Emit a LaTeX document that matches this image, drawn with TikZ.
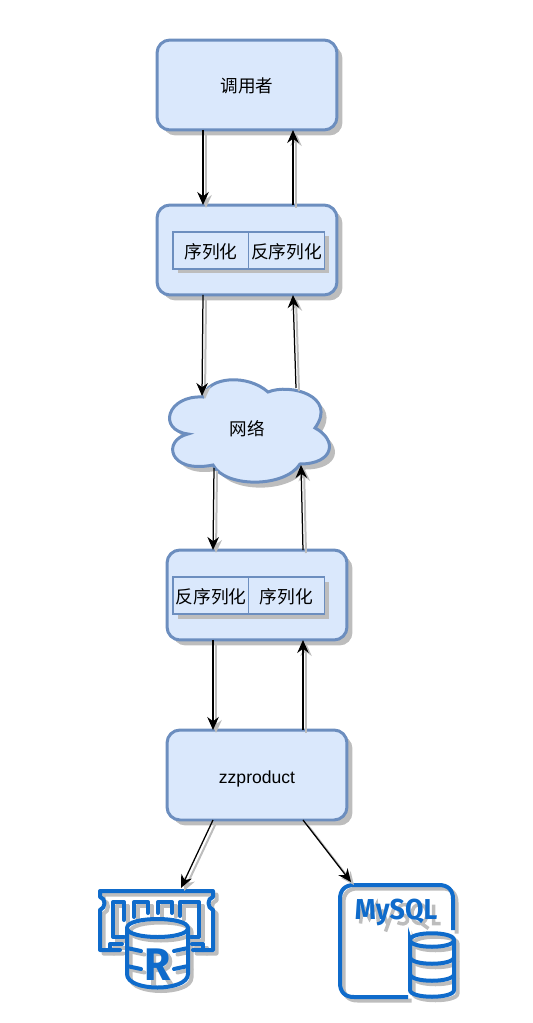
\documentclass[tikz,border=0pt]{standalone}
\usepackage{fontspec}
\setmainfont{Liberation Sans}
\newfontfamily\cjk{Noto Sans CJK SC}
\newfontfamily\iconfont[FakeStretch=0.93]{Fira Sans}
\usetikzlibrary{arrows.meta,shadows}
\definecolor{boxfill}{HTML}{DAE8FC}
\definecolor{boxline}{HTML}{6C8EBF}
\definecolor{iconblue}{HTML}{0F6BCB}
\definecolor{shadowgray}{HTML}{BDBDBD}
\tikzset{
  boxshadow/.style={drop shadow={shadow xshift=0.11cm,shadow yshift=-0.11cm,fill=shadowgray,opacity=1}},
  bigbox/.style={draw=boxline,fill=boxfill,line width=0.06cm,rounded corners=0.26cm,outer sep=0pt,
    minimum width=3.6cm,minimum height=1.8cm,boxshadow,font=\cjk,text height=0.39cm,text depth=0.07cm},
  smallbox/.style={draw=boxline,fill=boxfill,line width=0.025cm,inner sep=0pt,
    minimum width=1.52cm,minimum height=0.74cm,
    drop shadow={shadow xshift=0.09cm,shadow yshift=-0.09cm,fill=shadowgray,opacity=1},
    font=\cjk\fontsize{10.1}{12}\selectfont,text height=0.39cm,text depth=0.07cm},
  link/.style={->,line width=0.025cm,
    preaction={draw=shadowgray,line width=0.04cm,transform canvas={xshift=0.06cm,yshift=-0.06cm}}}
}
% the two icons, drawn once for the shadow and once in blue
\newcommand{\redisicon}[1]{%
  \begin{scope}[draw=#1,line width=0.08cm,line join=round,line cap=round]
    \draw (120,950) -- (100,950) -- (100,910) .. controls (106,908) and (106,898) .. (100,897) -- (100,891)
      -- (213,891) -- (213,897) .. controls (207,898) and (207,908) .. (213,910) -- (213,950) -- (193,950);
    \draw (124,937) -- (113,937) -- (113,902) -- (124,902) -- (124,920);
    \draw (134,917) -- (134,902) -- (148,902) -- (148,913);
    \draw (158,913) -- (158,902) -- (172,902) -- (172,913);
    \draw (180,916) -- (180,902) -- (199,902) -- (199,937) -- (191,937);
    \draw (110,950) -- (110,944) -- (122,944);
    \draw (203,950) -- (203,944) -- (192,944);
    \draw (127,928) .. controls (127,916) and (188,916) .. (188,928) .. controls (188,940) and (127,940) .. (127,928)
      -- (127,974) .. controls (127,992) and (188,992) .. (188,974) -- (188,928);
    \draw (127,948) -- (141,951) (127,966) -- (141,969) (188,948) -- (174,951) (188,966) -- (174,969);
  \end{scope}}
\newcommand{\mysqlicon}[1]{%
  \begin{scope}[draw=#1,line width=0.08cm]
    \draw (453,930) -- (453,899) .. controls (453,890) and (448,885) .. (439,885) -- (354,885)
      .. controls (345,885) and (340,890) .. (340,899) -- (340,983) .. controls (340,992) and (345,997) .. (354,997) -- (408,997);
    \draw (410,940) .. controls (410,931) and (454,931) .. (454,940) .. controls (454,949) and (410,949) .. (410,940)
      -- (410,990) .. controls (410,999) and (454,999) .. (454,990) -- (454,940);
    \draw (410,957) .. controls (410,966) and (454,966) .. (454,957);
    \draw (410,974) .. controls (410,983) and (454,983) .. (454,974);
  \end{scope}}
\begin{document}
\begin{tikzpicture}[>={Stealth[length=0.26cm,width=0.23cm]},x=0.02cm,y=-0.02cm]
\useasboundingbox (0,0) rectangle (533,1023);

\node[bigbox] (caller) at (247,85) {调用者};
\node[bigbox] (client) at (247,250) {};
\node[smallbox] (clientser) at (211,250.5) {序列化};
\node[smallbox] (clientde) at (286.5,250.5) {反序列化};

\draw[draw=boxline,fill=boxfill,line width=0.06cm,boxshadow]
  (203,397) .. controls (208,376) and (248,374) .. (268,392)
  .. controls (290,383) and (338,396) .. (315,428)
  .. controls (338,440) and (334,464) .. (300,464)
  .. controls (285,488) and (225,488) .. (213,465)
  .. controls (168,474) and (162,440) .. (188,434)
  .. controls (157,430) and (167,395) .. (203,397) -- cycle;
\node[font=\cjk] (net) at (247,429) {网络};
\coordinate (netin) at (202,396);
\coordinate (netback) at (296,388);
\coordinate (netout) at (214,468);
\coordinate (netret) at (301,465);

\node[bigbox] (server) at (257,595) {};
\node[smallbox] (serverde) at (211,595.5) {反序列化};
\node[smallbox] (serverser) at (286.5,595.5) {序列化};
\node[bigbox,font=\normalfont] (product) at (257,775) {zzproduct};

\begin{scope}[shift={(3.5,3.5)}]
\redisicon{shadowgray}
\mysqlicon{shadowgray}
% letters of the shadow
\draw[shadowgray,line width=0.1cm] (150,982) -- (150,950) -- (158,950) .. controls (169,950) and (169,966) .. (158,966) -- (150,966) (158,966) -- (168,982);
\draw[shadowgray,line width=0.07cm] (357,920) -- (359,901) -- (366,915) -- (373,901) -- (375,920)
  (378,906) -- (384,920) (390,906) -- (382,928)
  (405,902) .. controls (395,898) and (392,908) .. (399,911) .. controls (408,914) and (404,924) .. (394,919)
  (416,901) .. controls (406,901) and (406,920) .. (416,920) .. controls (426,920) and (426,901) .. (416,901)
  (418,920) -- (425,925)
  (430,901) -- (430,920) -- (437,920);
\end{scope}
\redisicon{iconblue}
\mysqlicon{iconblue}
\node[font=\iconfont\bfseries\fontsize{26}{26}\selectfont,text=iconblue,inner sep=0pt] (redisletter) at (158,965) {R};
\node[font=\iconfont\bfseries\fontsize{16.4}{16.4}\selectfont,text=iconblue,inner sep=0pt] (mysqlname) at (396,912) {MySQL};
\coordinate (redis) at (181,888);
\coordinate (mysql) at (351,882);

\draw[link] ([xshift=-0.88cm]caller.south) -- ([xshift=-0.88cm]client.north);
\draw[link] ([xshift=0.92cm]client.north) -- ([xshift=0.92cm]caller.south);
\draw[link] ([xshift=-0.88cm]client.south) -- (netin);
\draw[link] (netback) -- ([xshift=0.92cm]client.south);
\draw[link] (netout) -- ([xshift=-0.88cm]server.north);
\draw[link] ([xshift=0.92cm]server.north) -- (netret);
\draw[link] ([xshift=-0.88cm]server.south) -- ([xshift=-0.88cm]product.north);
\draw[link] ([xshift=0.92cm]product.north) -- ([xshift=0.92cm]server.south);
\draw[link] ([xshift=-0.88cm]product.south) -- (redis);
\draw[link] ([xshift=0.92cm]product.south) -- (mysql);
\end{tikzpicture}
\end{document}
